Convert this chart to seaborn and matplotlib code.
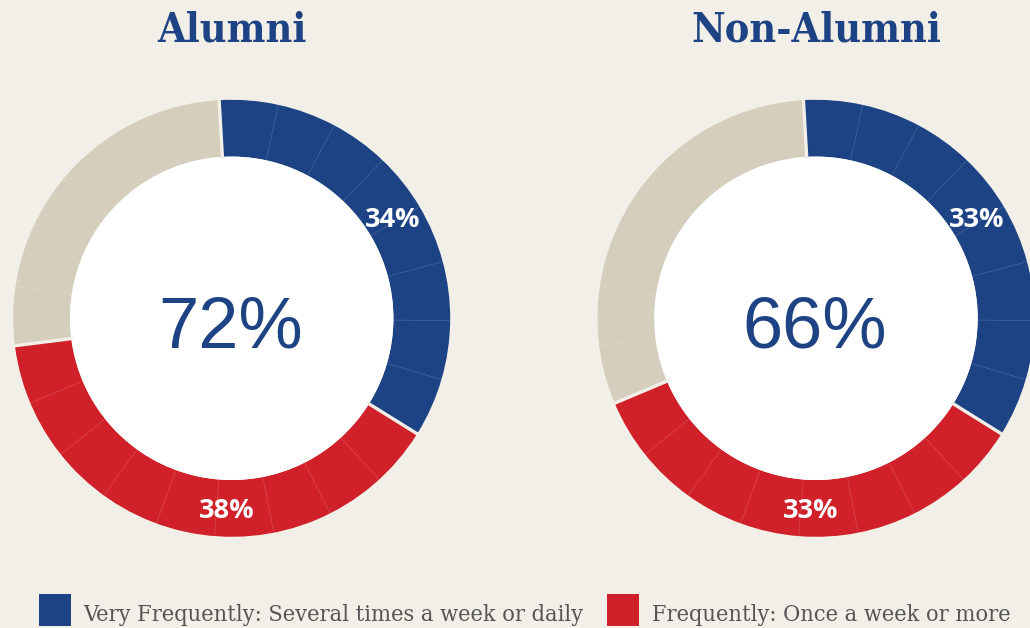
import numpy as np
import matplotlib
matplotlib.use('Agg')
import matplotlib.pyplot as plt
from matplotlib import font_manager as fm
from matplotlib.patches import Circle, Rectangle
import seaborn as sns

# --- data ---
groups = ['Alumni', 'Non-Alumni']
legend_labels = ['Very Frequently: Several times a week or daily',
                 'Frequently: Once a week or more']
very_frequently = [34, 33]
frequently = [38, 33]
# each ring is drawn as 23 equal cells: very frequently / frequently / rest
alumni_cells = [8, 9, 6]
non_alumni_cells = [8, 8, 7]
ring_cells = [alumni_cells, non_alumni_cells]

# --- style ---
bg = '#f2efe8'
blue = '#1d4384'
red = '#d0212a'
sand = '#d6cebc'
palette = sns.color_palette([blue, red, sand])

sns.set_theme(style='white', rc={'figure.facecolor': bg, 'axes.facecolor': bg})


def has_condensed(family):
    try:
        path = fm.findfont(fm.FontProperties(family=family, stretch='condensed'),
                           fallback_to_default=False)
    except ValueError:
        return False
    return 'Condensed' in path


if has_condensed('DejaVu Serif'):
    title_font = dict(family='DejaVu Serif', stretch='condensed', size=29.5)
    legend_font = dict(family='DejaVu Serif', stretch='condensed', size=16.8)
else:
    title_font = dict(family='DejaVu Serif', size=27)
    legend_font = dict(family='Liberation Serif', size=18)

W, H = 1030, 628
centers_x = [231.7, 816.0]
cy = H - 318.3
r_out, r_in = 218.5, 161.7
start = 93.3          # first cell edge, degrees (ccw from +x)
label_angles = [58, 181.5]   # clockwise from 12 o'clock
label_r = 190

fig = plt.figure(figsize=(W / 100, H / 100), dpi=100)
ax = fig.add_axes([0, 0, 1, 1])

for i, cells in enumerate(ring_cells):
    cx = centers_x[i]
    ax.pie(cells, colors=palette, startangle=start, counterclock=False,
           radius=r_out, center=(cx, cy),
           wedgeprops=dict(width=r_out - r_in, linewidth=0))

    n = sum(cells)
    # thin cell dividers
    for k in range(n):
        a = np.deg2rad(start - 360 * k / n)
        ax.plot([cx + r_in * np.cos(a), cx + r_out * np.cos(a)],
                [cy + r_in * np.sin(a), cy + r_out * np.sin(a)],
                color='white', alpha=0.2, lw=0.45)
    # gaps between categories
    for b in [0] + list(np.cumsum(cells)[:-1]):
        a = np.deg2rad(start - 360 * b / n)
        ax.plot([cx + (r_in - 2) * np.cos(a), cx + (r_out + 2) * np.cos(a)],
                [cy + (r_in - 2) * np.sin(a), cy + (r_out + 2) * np.sin(a)],
                color=bg, lw=2.4, solid_capstyle='butt')

    ax.add_patch(Circle((cx, cy), r_in, facecolor='white', edgecolor='none'))

    # centre total
    ax.text(cx - 1, H - 347, f'{very_frequently[i] + frequently[i]}%',
            ha='center', va='baseline', fontsize=52, family='Liberation Sans',
            color=blue)

    # segment labels
    for val, ang in zip([very_frequently[i], frequently[i]], label_angles):
        t = np.deg2rad(ang)
        ax.text(cx + label_r * np.sin(t), cy + label_r * np.cos(t) - 9.5,
                f'{val}%', ha='center', va='baseline', fontsize=19.5,
                family='Open Sans', fontweight='bold', color='white')

    # title
    ax.text(cx, H - 41.7, groups[i], ha='center', va='baseline',
            fontweight='bold', color=blue, **title_font)

# legend
for x0, color, label in zip([39, 607.3], [blue, red], legend_labels):
    ax.add_patch(Rectangle((x0, H - 625.7), 31.7, 31.4, facecolor=color,
                           edgecolor='none'))
    ax.text(x0 + 44.3, H - 621, label, ha='left', va='baseline',
            color='#555555', **legend_font)

ax.set_xlim(0, W)
ax.set_ylim(0, H)
ax.set_aspect('equal')
ax.axis('off')

fig.savefig('out.png', dpi=100, facecolor=bg)
